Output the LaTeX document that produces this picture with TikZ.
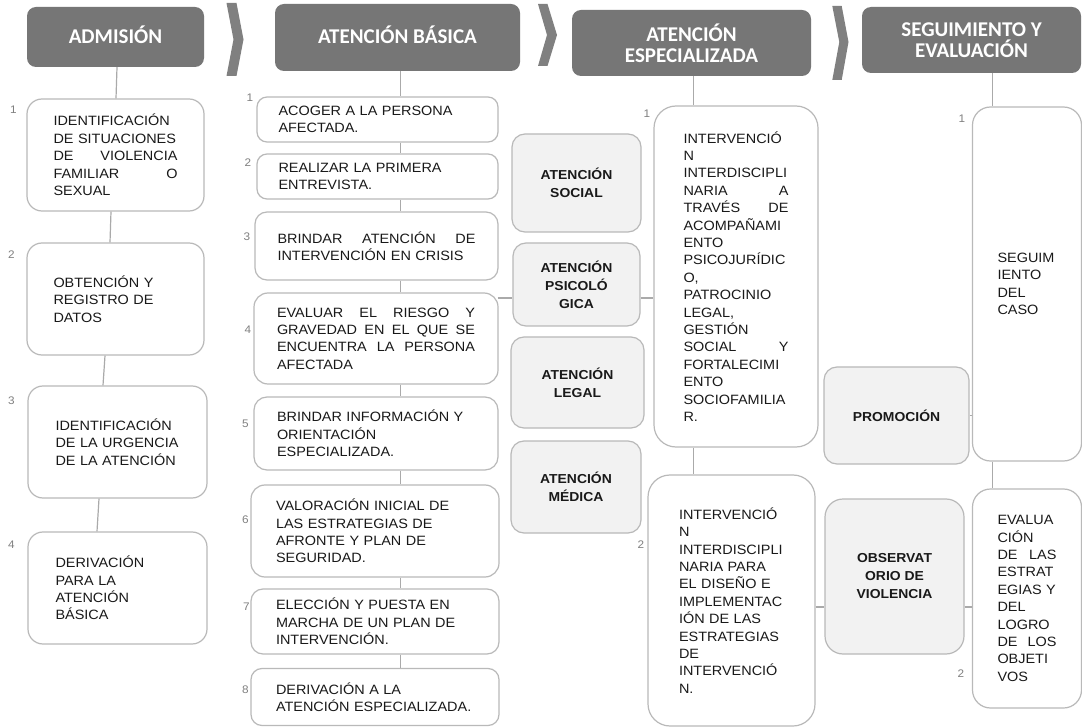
\documentclass[tikz,border=0pt]{standalone}
\usepackage{fontspec}
\setmainfont{Liberation Sans}[FakeStretch=1.07]
\newfontfamily\hdrfont{Carlito}
\definecolor{hdrc}{RGB}{118,118,118}
\definecolor{chevc}{RGB}{128,128,128}
\definecolor{bordc}{RGB}{185,185,185}
\definecolor{lfill}{RGB}{242,242,242}
\definecolor{linec}{RGB}{170,170,170}
\definecolor{numc}{RGB}{128,128,128}
\definecolor{txtc}{RGB}{25,25,25}
\begin{document}
\begin{tikzpicture}[x=1pt,y=-1pt,
  hdr/.style={fill=hdrc, rounded corners=9pt, text=white, align=center, inner sep=0pt,
    font=\hdrfont\bfseries\fontsize{21}{21}\selectfont},
  wbox/.style={draw=bordc, line width=1.2pt, fill=white, inner sep=0pt, align=left, text=txtc,
    font=\fontsize{13.5}{17.4}\selectfont},
  gbox/.style={draw=bordc, line width=1.2pt, fill=lfill, rounded corners=13pt, inner sep=0pt, align=center, text=txtc,
    font=\bfseries\fontsize{13}{18}\selectfont},
  numlab/.style={text=numc, inner sep=0pt, font=\fontsize{11}{11}\selectfont},
  conn/.style={draw=linec, line width=1.2pt},
  chev/.style={fill=chevc}
]
\path[use as bounding box, fill=white] (0,0) rectangle (1082,727);

% chevrons
\fill[chev] (226.5,3) -- (236.5,3) -- (243.5,39.5) -- (236.5,76) -- (226.5,76) -- (233.5,39.5) -- cycle;
\fill[chev] (538,4) -- (547.5,4) -- (557,35) -- (547.5,66) -- (538,66) -- (547,35) -- cycle;
\fill[chev] (832.3,6) -- (841.7,6) -- (848.5,42) -- (841.7,80) -- (832.3,80) -- (839.3,42) -- cycle;

% headers
\node[hdr, minimum width=177pt, minimum height=60pt, text height=13pt, text depth=0pt] (h1) at (115.5,37) {ADMISIÓN};
\node[hdr, minimum width=245pt, minimum height=67pt, text height=13pt, text depth=0pt] (h2) at (397.5,37.5) {ATENCIÓN BÁSICA};
\node[hdr, minimum width=239pt, minimum height=66pt] (h3) at (691.5,43) {ATENCIÓN\\ESPECIALIZADA};
\node[hdr, minimum width=219pt, minimum height=66pt] (h4) at (971.5,40) {SEGUIMIENTO Y\\EVALUACIÓN};

% column 1
\node[wbox, rounded corners=15pt, minimum width=177pt, minimum height=112pt, text width=124pt] (a1) at (115.5,155)
  {IDENTIFICACIÓN\\ DE SITUACIONES\\ DE\hfill VIOLENCIA\\ FAMILIAR\hfill O\\ SEXUAL};
\node[wbox, rounded corners=15pt, minimum width=177pt, minimum height=112pt, text width=124pt] (a2) at (115.5,299)
  {OBTENCIÓN Y\\ REGISTRO DE\\ DATOS};
\node[wbox, rounded corners=15pt, minimum width=179pt, minimum height=112pt, text width=124pt] (a3) at (117.5,442)
  {IDENTIFICACIÓN\\ DE LA URGENCIA\\ DE LA ATENCIÓN};
\node[wbox, rounded corners=15pt, minimum width=179pt, minimum height=112pt, text width=124pt] (a4) at (117.5,588)
  {DERIVACIÓN\\ PARA LA\\ ATENCIÓN\\ BÁSICA};

% column 2
\node[wbox, rounded corners=10pt, minimum width=241pt, minimum height=45pt, text width=198pt] (b1) at (377.5,119.5)
  {ACOGER A LA PERSONA\\ AFECTADA.};
\node[wbox, rounded corners=10pt, minimum width=241pt, minimum height=45pt, text width=198pt] (b2) at (377.5,176.5)
  {REALIZAR LA PRIMERA\\ ENTREVISTA.};
\node[wbox, rounded corners=12pt, minimum width=243pt, minimum height=68pt, text width=198pt] (b3) at (376.5,246)
  {BRINDAR\hfill ATENCIÓN\hfill DE\\ INTERVENCIÓN EN CRISIS};
\node[wbox, rounded corners=14pt, minimum width=244pt, minimum height=91pt, text width=198pt] (b4) at (376,338.5)
  {EVALUAR\hfill EL\hfill RIESGO\hfill Y\\ GRAVEDAD\hfill EN\hfill EL\hfill QUE\hfill SE\\ ENCUENTRA\hfill LA\hfill PERSONA\\ AFECTADA};
\node[wbox, rounded corners=13pt, minimum width=244pt, minimum height=73pt, text width=198pt] (b5) at (376,433.5)
  {BRINDAR INFORMACIÓN Y\\ ORIENTACIÓN\\ ESPECIALIZADA.};
\node[wbox, rounded corners=14pt, minimum width=248pt, minimum height=92pt, text width=198pt] (b6) at (375,531)
  {VALORACIÓN INICIAL DE\\ LAS ESTRATEGIAS DE\\ AFRONTE Y PLAN DE\\ SEGURIDAD.};
\node[wbox, rounded corners=12pt, minimum width=248pt, minimum height=65pt, text width=198pt] (b7) at (375,621.5)
  {ELECCIÓN Y PUESTA EN\\ MARCHA DE UN PLAN DE\\ INTERVENCIÓN.};
\node[wbox, rounded corners=11pt, minimum width=248pt, minimum height=57pt, text width=198pt] (b8) at (375,697)
  {DERIVACIÓN A LA\\ ATENCIÓN ESPECIALIZADA.};

% column 3 gray boxes
\node[gbox, minimum width=129pt, minimum height=98pt] (s1) at (576.5,183) {ATENCIÓN\\ SOCIAL};
\node[gbox, minimum width=127pt, minimum height=83pt] (s2) at (576.5,284.5) {ATENCIÓN\\ PSICOLÓ\\ GICA};
\node[gbox, minimum width=133pt, minimum height=91pt] (s3) at (577.5,382.5) {ATENCIÓN\\ LEGAL};
\node[gbox, minimum width=130pt, minimum height=92pt] (s4) at (576,487) {ATENCIÓN\\ MÉDICA};

% column 3 big boxes
\node[wbox, rounded corners=22pt, minimum width=164pt, minimum height=341pt, text width=105pt] (c1) at (736,276.5)
  {INTERVENCIÓ\\ N\\ INTERDISCIPLI\\ NARIA\hfill A\\ TRAVÉS\hfill DE\\ ACOMPAÑAMI\\ ENTO\\ PSICOJURÍDIC\\ O,\\ PATROCINIO\\ LEGAL,\\ GESTIÓN\\ SOCIAL\hfill Y\\ FORTALECIMI\\ ENTO\\ SOCIOFAMILIA\\ R.};
\node[wbox, rounded corners=22pt, minimum width=167pt, minimum height=251pt, text width=105pt] (c2) at (731.5,600.5)
  {INTERVENCIÓ\\ N\\ INTERDISCIPLI\\ NARIA PARA\\ EL DISEÑO E\\ IMPLEMENTAC\\ IÓN DE LAS\\ ESTRATEGIAS\\ DE\\ INTERVENCIÓ\\ N.};

% column 4
\node[gbox, minimum width=145pt, minimum height=97pt] (pr) at (896.5,415.5) {PROMOCIÓN};
\node[gbox, rounded corners=18pt, minimum width=139pt, minimum height=155pt] (ob) at (894.5,576.5) {OBSERVAT\\ ORIO DE\\ VIOLENCIA};
\node[wbox, rounded corners=18pt, minimum width=109pt, minimum height=354pt, text width=59pt] (d1) at (1027,284)
  {SEGUIM\\ IENTO\\ DEL\\ CASO};
\node[wbox, rounded corners=18pt, minimum width=109pt, minimum height=219pt, text width=59pt] (d2) at (1027,598.5)
  {EVALUA\\ CIÓN\\ DE\hfill LAS\\ ESTRAT\\ \mbox{EGIAS Y}\\ DEL\\ LOGRO\\ DE\hfill LOS\\ OBJETI\\ VOS};

% numbers
\node[numlab] (na1) at (13.5,110) {1};
\node[numlab] (na2) at (11.5,255) {2};
\node[numlab] (na3) at (11.5,400.5) {3};
\node[numlab] (na4) at (11.5,545) {4};
\node[numlab] (nb1) at (250,97.5) {1};
\node[numlab] (nb2) at (248,163) {2};
\node[numlab] (nb3) at (247,237) {3};
\node[numlab] (nb4) at (248,330) {4};
\node[numlab] (nb5) at (245.5,424) {5};
\node[numlab] (nb6) at (245.5,520) {6};
\node[numlab] (nb7) at (246.5,607) {7};
\node[numlab] (nb8) at (245.5,690) {8};
\node[numlab] (nc1) at (647,114) {1};
\node[numlab] (nc2) at (641,545) {2};
\node[numlab] (nd1) at (962,119) {1};
\node[numlab] (nd2) at (961,674) {2};

% connectors column 1
\draw[conn] ([xshift=1.5pt]h1.south) -- ([xshift=0.5pt]a1.north);
\draw[conn] ([xshift=-4.5pt]a1.south) -- ([xshift=-5.5pt]a2.north);
\draw[conn] ([xshift=-10.5pt]a2.south) -- ([xshift=-14.5pt]a3.north);
\draw[conn] ([xshift=-18.5pt]a3.south) -- ([xshift=-20.5pt]a4.north);

% connectors column 2
\coordinate (k2) at (400.5,0);
\draw[conn] (k2 |- h2.south) -- (k2 |- b1.north);
\draw[conn] (k2 |- b1.south) -- (k2 |- b2.north);
\draw[conn] (k2 |- b2.south) -- (k2 |- b3.north);
\draw[conn] (k2 |- b3.south) -- (k2 |- b4.north);
\draw[conn] (k2 |- b4.south) -- (k2 |- b5.north);
\draw[conn] (k2 |- b5.south) -- (k2 |- b6.north);
\draw[conn] (k2 |- b6.south) -- (k2 |- b7.north);
\draw[conn] (k2 |- b7.south) -- (k2 |- b8.north);

% horizontal link through psychological care
\coordinate (r1) at (0,298);
\draw[conn] ([xshift=-1pt]r1 -| b4.east) -- (r1 -| s2.west);
\draw[conn] (r1 -| s2.east) -- (r1 -| c1.west);

% column 3
\coordinate (k3) at (693.5,0);
\draw[conn] (k3 |- h3.south) -- (k3 |- c1.north);
\draw[conn] (k3 |- c1.south) -- (k3 |- c2.north);
\coordinate (r2) at (0,607);
\draw[conn] (r2 -| c2.east) -- (r2 -| ob.west);
\draw[conn] (r2 -| ob.east) -- (r2 -| d2.west);

% column 4
\coordinate (k4) at (992.5,0);
\draw[conn] (k4 |- h4.south) -- (k4 |- d1.north);
\draw[conn] (k4 |- d1.south) -- (k4 |- d2.north);
\draw[conn] (pr.east) -- (pr.east -| d1.west);
\end{tikzpicture}
\end{document}
